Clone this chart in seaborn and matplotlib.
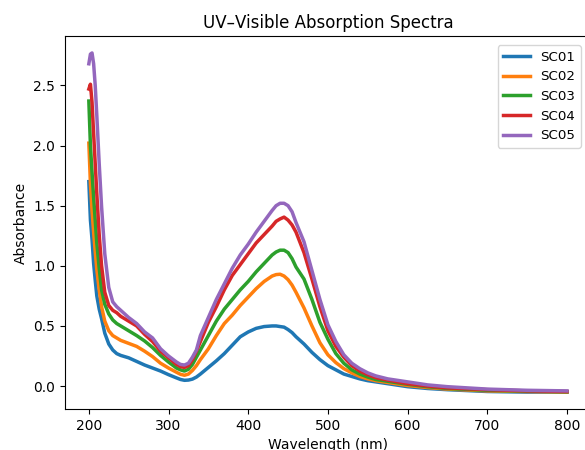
import numpy as np
import pandas as pd
import matplotlib
matplotlib.use('Agg')
import matplotlib.pyplot as plt
import seaborn as sns

# wavelengths (nm) shared by all spectra
wavelength = [200, 202, 204, 206, 208, 210, 213, 216, 220, 225, 230, 235, 240, 250,
              260, 270, 280, 290, 300, 310, 315, 320, 325, 330, 335, 340, 350, 360,
              370, 380, 390, 400, 410, 420, 430, 435, 440, 445, 450, 455, 460, 470, 480, 490,
              500, 510, 520, 530, 540, 550, 560, 575, 600, 625, 650, 700, 750, 800]

sc01 = [1.70, 1.38, 1.22, 1.02, 0.88, 0.75, 0.64, 0.56, 0.44, 0.35, 0.30, 0.27, 0.255, 0.235,
        0.205, 0.175, 0.15, 0.125, 0.095, 0.068, 0.055, 0.048, 0.05, 0.058, 0.075, 0.10, 0.155, 0.21,
        0.27, 0.34, 0.41, 0.45, 0.48, 0.495, 0.50, 0.50, 0.495, 0.49, 0.47, 0.445, 0.41, 0.35, 0.28, 0.22,
        0.17, 0.135, 0.10, 0.08, 0.06, 0.045, 0.035, 0.02, -0.005, -0.02, -0.03, -0.045, -0.05, -0.05]

sc02 = [2.02, 1.68, 1.46, 1.28, 1.12, 0.97, 0.80, 0.66, 0.54, 0.46, 0.42, 0.40, 0.38, 0.355,
        0.33, 0.29, 0.245, 0.19, 0.15, 0.115, 0.098, 0.09, 0.10, 0.13, 0.17, 0.22, 0.31, 0.42,
        0.52, 0.59, 0.67, 0.74, 0.81, 0.87, 0.915, 0.927, 0.93, 0.915, 0.885, 0.84, 0.78, 0.65, 0.50, 0.36,
        0.26, 0.195, 0.145, 0.11, 0.08, 0.06, 0.045, 0.03, 0.005, -0.012, -0.025, -0.04, -0.045, -0.05]

sc03 = [2.37, 2.00, 1.78, 1.57, 1.38, 1.19, 0.98, 0.80, 0.68, 0.60, 0.55, 0.52, 0.50, 0.46,
        0.42, 0.375, 0.32, 0.255, 0.20, 0.15, 0.135, 0.125, 0.14, 0.18, 0.24, 0.30, 0.42, 0.54,
        0.64, 0.72, 0.80, 0.87, 0.95, 1.02, 1.09, 1.115, 1.13, 1.13, 1.11, 1.06, 0.99, 0.89, 0.72, 0.53,
        0.39, 0.27, 0.19, 0.135, 0.10, 0.075, 0.055, 0.04, 0.015, -0.005, -0.02, -0.035, -0.042, -0.047]

sc04 = [2.47, 2.51, 2.36, 2.10, 1.85, 1.60, 1.26, 1.00, 0.78, 0.67, 0.63, 0.61, 0.58, 0.54,
        0.50, 0.43, 0.37, 0.29, 0.235, 0.18, 0.162, 0.155, 0.17, 0.22, 0.29, 0.37, 0.53, 0.66,
        0.80, 0.92, 1.01, 1.10, 1.19, 1.26, 1.33, 1.37, 1.39, 1.405, 1.38, 1.34, 1.28, 1.11, 0.89, 0.66,
        0.46, 0.33, 0.24, 0.17, 0.125, 0.095, 0.07, 0.05, 0.02, 0.0, -0.015, -0.03, -0.04, -0.045]

sc05 = [2.68, 2.76, 2.77, 2.68, 2.50, 2.25, 1.85, 1.49, 1.10, 0.82, 0.70, 0.66, 0.63, 0.57,
        0.52, 0.45, 0.40, 0.31, 0.25, 0.20, 0.18, 0.175, 0.19, 0.24, 0.30, 0.42, 0.57, 0.72,
        0.85, 0.98, 1.09, 1.18, 1.28, 1.37, 1.46, 1.50, 1.52, 1.52, 1.50, 1.45, 1.36, 1.20, 0.96, 0.72,
        0.51, 0.37, 0.26, 0.19, 0.145, 0.11, 0.085, 0.06, 0.035, 0.01, -0.005, -0.025, -0.035, -0.04]

samples = ['SC01', 'SC02', 'SC03', 'SC04', 'SC05']
spectra = [sc01, sc02, sc03, sc04, sc05]

df = pd.concat([pd.DataFrame({'Wavelength': wavelength, 'Absorbance': s, 'Sample': name})
                for name, s in zip(samples, spectra)], ignore_index=True)

fig = plt.figure(figsize=(5.85, 4.5), dpi=100)
ax = fig.add_axes([0.111, 0.091, 0.899, 0.829])

sns.lineplot(data=df, x='Wavelength', y='Absorbance', hue='Sample',
             palette='tab10', linewidth=2.5, ax=ax)

ax.set_title('UV\u2013Visible Absorption Spectra', fontsize=12)
ax.set_xlabel('Wavelength (nm)')
ax.set_ylabel('Absorbance')
sns.move_legend(ax, 'upper right', title=None, fontsize=9.6,
                bbox_to_anchor=(0.993, 0.993))

fig.savefig('out.png', dpi=100)
